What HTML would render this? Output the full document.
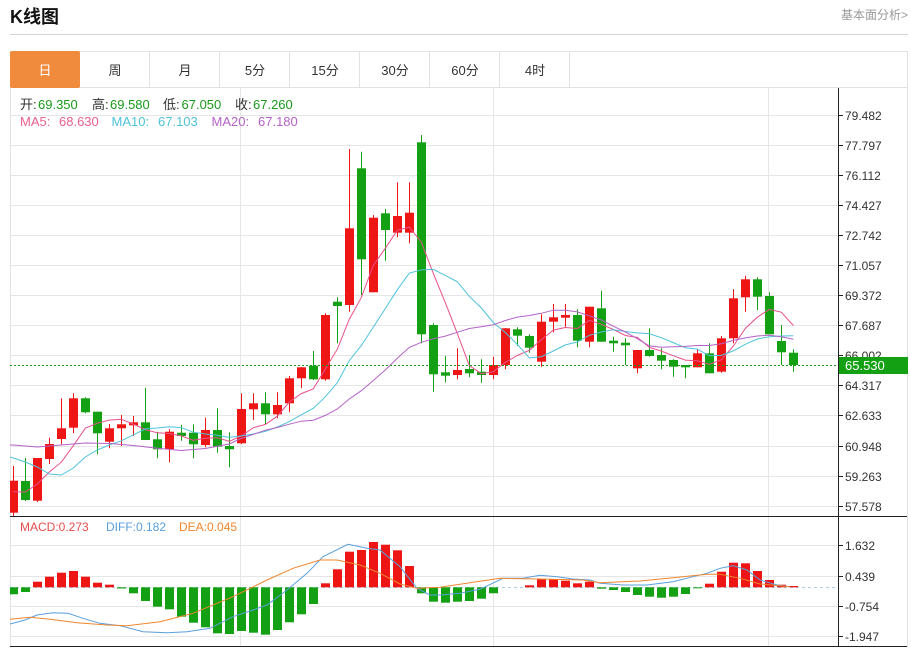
<!DOCTYPE html>
<html><head><meta charset="utf-8"><style>
html,body{margin:0;padding:0;background:#fff;}
svg{display:block;font-family:"Liberation Sans","Noto Sans CJK SC",sans-serif;}
</style></head><body>
<svg width="911" height="649" viewBox="0 0 911 649" xmlns="http://www.w3.org/2000/svg">
<defs><clipPath id="cp"><rect x="10" y="88" width="828" height="428"/></clipPath>
<clipPath id="cp2"><rect x="10" y="517" width="828" height="129"/></clipPath></defs>
<rect width="911" height="649" fill="#fff"/>
<!-- header -->
<text x="10" y="23" font-size="18" font-weight="bold" fill="#111">K线图</text>
<text x="908" y="19" font-size="12" fill="#999" text-anchor="end">基本面分析&gt;</text>
<line x1="10" y1="34.5" x2="908" y2="34.5" stroke="#d4d4d4"/>
<!-- tabs -->
<rect x="10.5" y="51.5" width="897" height="36" fill="#fff" stroke="#e2e2e2"/>
<rect x="10" y="51" width="70" height="37" rx="2" fill="#f08a3c"/>
<g stroke="#e2e2e2"><line x1="149.5" y1="51" x2="149.5" y2="88"/><line x1="219.5" y1="51" x2="219.5" y2="88"/><line x1="289.5" y1="51" x2="289.5" y2="88"/><line x1="359.5" y1="51" x2="359.5" y2="88"/><line x1="429.5" y1="51" x2="429.5" y2="88"/><line x1="499.5" y1="51" x2="499.5" y2="88"/><line x1="569.5" y1="51" x2="569.5" y2="88"/></g>
<g font-size="13" text-anchor="middle" fill="#333">
<text x="45" y="75" fill="#fff">日</text><text x="115" y="75">周</text><text x="185" y="75">月</text><text x="255" y="75">5分</text><text x="325" y="75">15分</text><text x="395" y="75">30分</text><text x="465" y="75">60分</text><text x="535" y="75">4时</text>
</g>
<!-- chart frame -->
<line x1="10.5" y1="88" x2="10.5" y2="647" stroke="#e2e2e2"/>
<line x1="907.5" y1="88" x2="907.5" y2="647" stroke="#e2e2e2"/>
<!-- grid -->
<g stroke="#e6e6e6">
<line x1="10" y1="115.5" x2="838" y2="115.5"/><line x1="10" y1="145.5" x2="838" y2="145.5"/><line x1="10" y1="175.5" x2="838" y2="175.5"/><line x1="10" y1="205.5" x2="838" y2="205.5"/><line x1="10" y1="235.5" x2="838" y2="235.5"/><line x1="10" y1="265.5" x2="838" y2="265.5"/><line x1="10" y1="295.5" x2="838" y2="295.5"/><line x1="10" y1="325.5" x2="838" y2="325.5"/><line x1="10" y1="355.5" x2="838" y2="355.5"/><line x1="10" y1="385.5" x2="838" y2="385.5"/><line x1="10" y1="415.5" x2="838" y2="415.5"/><line x1="10" y1="446.5" x2="838" y2="446.5"/><line x1="10" y1="476.5" x2="838" y2="476.5"/><line x1="10" y1="506.5" x2="838" y2="506.5"/>
<line x1="10" y1="545.5" x2="838" y2="545.5"/><line x1="10" y1="576.5" x2="838" y2="576.5"/><line x1="10" y1="606.5" x2="838" y2="606.5"/><line x1="10" y1="636.5" x2="838" y2="636.5"/>
<line x1="240.5" y1="88" x2="240.5" y2="647"/><line x1="493.5" y1="88" x2="493.5" y2="647"/><line x1="768.5" y1="88" x2="768.5" y2="647"/>
</g>
<!-- info text -->
<g font-size="13">
<text x="20" y="109" fill="#333">开:</text><text x="38" y="109" fill="#1a9a1a">69.350</text>
<text x="92" y="109" fill="#333">高:</text><text x="110" y="109" fill="#1a9a1a">69.580</text>
<text x="163" y="109" fill="#333">低:</text><text x="181.5" y="109" fill="#1a9a1a">67.050</text>
<text x="235" y="109" fill="#333">收:</text><text x="253" y="109" fill="#1a9a1a">67.260</text>
<text x="20" y="126" fill="#e8608f">MA5:</text><text x="59" y="126" fill="#e8608f">68.630</text>
<text x="111.5" y="126" fill="#4ec3dc">MA10:</text><text x="158" y="126" fill="#4ec3dc">67.103</text>
<text x="211.5" y="126" fill="#b462c8">MA20:</text><text x="258" y="126" fill="#b462c8">67.180</text>
</g>
<!-- candles -->
<g clip-path="url(#cp)">
<g stroke="#ee1515" stroke-width="1" fill="#ee1515">
<line x1="13.5" y1="466" x2="13.5" y2="516"/><rect x="9" y="480.7" width="9" height="32" stroke="none"/>
<line x1="37.5" y1="458" x2="37.5" y2="502"/><rect x="33" y="458" width="9" height="42.7" stroke="none"/>
<line x1="49.5" y1="437.7" x2="49.5" y2="464"/><rect x="45" y="444" width="9" height="15" stroke="none"/>
<line x1="61.5" y1="398.3" x2="61.5" y2="444.3"/><rect x="57" y="428.3" width="9" height="10.7" stroke="none"/>
<line x1="73.5" y1="393.3" x2="73.5" y2="433.3"/><rect x="69" y="398.3" width="9" height="29.4" stroke="none"/>
<line x1="109.5" y1="424" x2="109.5" y2="448.3"/><rect x="105" y="428.3" width="9" height="13.4" stroke="none"/>
<line x1="121.5" y1="415" x2="121.5" y2="446"/><rect x="117" y="424.3" width="9" height="4" stroke="none"/>
<line x1="133.5" y1="416" x2="133.5" y2="436"/><rect x="129" y="422.3" width="9" height="3" stroke="none"/>
<line x1="169.5" y1="429.3" x2="169.5" y2="462.3"/><rect x="165" y="431.7" width="9" height="17.6" stroke="none"/>
<line x1="205.5" y1="417.7" x2="205.5" y2="447.3"/><rect x="201" y="430" width="9" height="15" stroke="none"/>
<line x1="241.5" y1="393.3" x2="241.5" y2="444"/><rect x="237" y="409" width="9" height="34.3" stroke="none"/>
<line x1="253.5" y1="393.3" x2="253.5" y2="420"/><rect x="249" y="403.3" width="9" height="6" stroke="none"/>
<line x1="277.5" y1="392.3" x2="277.5" y2="418.3"/><rect x="273" y="405" width="9" height="9.3" stroke="none"/>
<line x1="289.5" y1="376" x2="289.5" y2="412.3"/><rect x="285" y="378.3" width="9" height="25" stroke="none"/>
<line x1="301.5" y1="367" x2="301.5" y2="388.3"/><rect x="297" y="367.3" width="9" height="11" stroke="none"/>
<line x1="325.5" y1="313.3" x2="325.5" y2="380.7"/><rect x="321" y="315" width="9" height="64.3" stroke="none"/>
<line x1="349.5" y1="149" x2="349.5" y2="311.7"/><rect x="345" y="228.3" width="9" height="76.7" stroke="none"/>
<line x1="373.5" y1="215" x2="373.5" y2="292.3"/><rect x="369" y="217.7" width="9" height="74.6" stroke="none"/>
<line x1="397.5" y1="182.3" x2="397.5" y2="237.3"/><rect x="393" y="216" width="9" height="16.7" stroke="none"/>
<line x1="409.5" y1="182.3" x2="409.5" y2="243.3"/><rect x="405" y="212.7" width="9" height="20" stroke="none"/>
<line x1="457.5" y1="348.3" x2="457.5" y2="379.3"/><rect x="453" y="370" width="9" height="5" stroke="none"/>
<line x1="493.5" y1="356.7" x2="493.5" y2="379.3"/><rect x="489" y="365" width="9" height="10" stroke="none"/>
<line x1="505.5" y1="328" x2="505.5" y2="369.3"/><rect x="501" y="328.3" width="9" height="36.7" stroke="none"/>
<line x1="541.5" y1="314.3" x2="541.5" y2="366.7"/><rect x="537" y="321.7" width="9" height="40" stroke="none"/>
<line x1="553.5" y1="304" x2="553.5" y2="332.3"/><rect x="549" y="317.3" width="9" height="4.4" stroke="none"/>
<line x1="565.5" y1="304" x2="565.5" y2="326.7"/><rect x="561" y="315" width="9" height="2.7" stroke="none"/>
<line x1="589.5" y1="306.7" x2="589.5" y2="347.3"/><rect x="585" y="306.7" width="9" height="35" stroke="none"/>
<line x1="637.5" y1="350" x2="637.5" y2="373.3"/><rect x="633" y="350" width="9" height="18.3" stroke="none"/>
<line x1="697.5" y1="349.3" x2="697.5" y2="367.3"/><rect x="693" y="353.3" width="9" height="14" stroke="none"/>
<line x1="721.5" y1="336" x2="721.5" y2="372.7"/><rect x="717" y="338.3" width="9" height="33.4" stroke="none"/>
<line x1="733.5" y1="289.3" x2="733.5" y2="343.3"/><rect x="729" y="298.3" width="9" height="40" stroke="none"/>
<line x1="745.5" y1="275.7" x2="745.5" y2="311.7"/><rect x="741" y="279.3" width="9" height="18" stroke="none"/>
</g>
<g stroke="#13a013" stroke-width="1" fill="#13a013">
<line x1="25.5" y1="458" x2="25.5" y2="501"/><rect x="21" y="481" width="9" height="19" stroke="none"/>
<line x1="85.5" y1="397.3" x2="85.5" y2="413.3"/><rect x="81" y="398.3" width="9" height="14" stroke="none"/>
<line x1="97.5" y1="411.7" x2="97.5" y2="454.3"/><rect x="93" y="411.7" width="9" height="21.6" stroke="none"/>
<line x1="145.5" y1="387.7" x2="145.5" y2="440"/><rect x="141" y="422.3" width="9" height="17.7" stroke="none"/>
<line x1="157.5" y1="431.7" x2="157.5" y2="458.3"/><rect x="153" y="439.3" width="9" height="10" stroke="none"/>
<line x1="181.5" y1="425" x2="181.5" y2="440.7"/><rect x="177" y="432.7" width="9" height="3.3" stroke="none"/>
<line x1="193.5" y1="424.3" x2="193.5" y2="458.3"/><rect x="189" y="432.7" width="9" height="11.6" stroke="none"/>
<line x1="217.5" y1="408.3" x2="217.5" y2="452.7"/><rect x="213" y="430" width="9" height="16.7" stroke="none"/>
<line x1="229.5" y1="432.3" x2="229.5" y2="467.3"/><rect x="225" y="446" width="9" height="3.3" stroke="none"/>
<line x1="265.5" y1="392.3" x2="265.5" y2="424"/><rect x="261" y="403.3" width="9" height="11" stroke="none"/>
<line x1="313.5" y1="351" x2="313.5" y2="380"/><rect x="309" y="365.7" width="9" height="13.6" stroke="none"/>
<line x1="337.5" y1="297.3" x2="337.5" y2="343.3"/><rect x="333" y="301.7" width="9" height="4.3" stroke="none"/>
<line x1="361.5" y1="151.7" x2="361.5" y2="295"/><rect x="357" y="168.3" width="9" height="91" stroke="none"/>
<line x1="385.5" y1="209" x2="385.5" y2="260.7"/><rect x="381" y="213.3" width="9" height="16.7" stroke="none"/>
<line x1="421.5" y1="135" x2="421.5" y2="343.3"/><rect x="417" y="142.3" width="9" height="192" stroke="none"/>
<line x1="433.5" y1="323.3" x2="433.5" y2="391.7"/><rect x="429" y="325" width="9" height="49.3" stroke="none"/>
<line x1="445.5" y1="356" x2="445.5" y2="382.3"/><rect x="441" y="372.3" width="9" height="3.4" stroke="none"/>
<line x1="469.5" y1="355" x2="469.5" y2="377.3"/><rect x="465" y="369" width="9" height="4.3" stroke="none"/>
<line x1="481.5" y1="359.3" x2="481.5" y2="382.7"/><rect x="477" y="371.7" width="9" height="3.3" stroke="none"/>
<line x1="517.5" y1="327.3" x2="517.5" y2="346"/><rect x="513" y="329.3" width="9" height="6.4" stroke="none"/>
<line x1="529.5" y1="334.3" x2="529.5" y2="352.7"/><rect x="525" y="336" width="9" height="11.7" stroke="none"/>
<line x1="577.5" y1="309.3" x2="577.5" y2="347.3"/><rect x="573" y="315" width="9" height="25.7" stroke="none"/>
<line x1="601.5" y1="290.7" x2="601.5" y2="341.7"/><rect x="597" y="308.3" width="9" height="33.4" stroke="none"/>
<line x1="613.5" y1="336.7" x2="613.5" y2="351.7"/><rect x="609" y="340.7" width="9" height="2.6" stroke="none"/>
<line x1="625.5" y1="338.3" x2="625.5" y2="365"/><rect x="621" y="342.7" width="9" height="2.6" stroke="none"/>
<line x1="649.5" y1="328.3" x2="649.5" y2="356.7"/><rect x="645" y="350" width="9" height="6" stroke="none"/>
<line x1="661.5" y1="348.3" x2="661.5" y2="369.3"/><rect x="657" y="355" width="9" height="5.7" stroke="none"/>
<line x1="673.5" y1="359.3" x2="673.5" y2="376.7"/><rect x="669" y="360" width="9" height="6.7" stroke="none"/>
<line x1="685.5" y1="365" x2="685.5" y2="378.3"/><rect x="681" y="365" width="9" height="2.3" stroke="none"/>
<line x1="709.5" y1="343.3" x2="709.5" y2="373.3"/><rect x="705" y="353.3" width="9" height="20" stroke="none"/>
<line x1="757.5" y1="277.3" x2="757.5" y2="310"/><rect x="753" y="279.3" width="9" height="17.4" stroke="none"/>
<line x1="769.5" y1="292.3" x2="769.5" y2="334.3"/><rect x="765" y="296" width="9" height="38.3" stroke="none"/>
<line x1="781.5" y1="325" x2="781.5" y2="365"/><rect x="777" y="341" width="9" height="11.3" stroke="none"/>
<line x1="793.5" y1="349.3" x2="793.5" y2="371.7"/><rect x="789" y="352.7" width="9" height="12.3" stroke="none"/>
</g>
<!-- MA lines -->
<g fill="none" stroke-width="1">
<polyline stroke="#e8508c" points="13.3,491.7 25.3,492 37.3,484 49.3,472 61.3,462.2 73.3,445.7 85.3,428.2 97.3,423.2 109.3,420.1 121.3,419.3 133.3,424.1 145.3,429.6 157.3,432.8 169.3,433.5 181.3,435.9 193.3,440.3 205.3,438.3 217.3,437.7 229.3,441.3 241.3,435.9 253.3,427.7 265.3,424.5 277.3,416.2 289.3,402 301.3,393.6 313.3,388.8 325.3,369 337.3,349.2 349.3,319.2 361.3,297.6 373.3,265.3 385.3,248.3 397.3,230.3 409.3,227.1 421.3,242.1 433.3,273.5 445.3,302.6 457.3,333.4 469.3,365.5 481.3,373.7 493.3,371.8 505.3,362.3 517.3,355.5 529.3,350.3 541.3,339.7 553.3,330.1 565.3,327.5 577.3,328.5 589.3,320.3 601.3,324.3 613.3,329.5 625.3,335.5 637.3,337.4 649.3,347.3 661.3,351.1 673.3,355.7 685.3,360.1 697.3,360.8 709.3,364.3 721.3,359.8 733.3,346.1 745.3,328.5 757.3,317.2 769.3,309.4 781.3,312.2 793.3,325.5"/>
<polyline stroke="#4ec3dc" points="10,457 13.3,458 25.3,462 37.3,467 49.3,474 61.3,475 73.3,468 85.3,457 97.3,450 109.3,445 121.3,440.8 133.3,434.9 145.3,428.9 157.3,428.0 169.3,426.8 181.3,427.6 193.3,432.2 205.3,434.0 217.3,435.3 229.3,437.4 241.3,435.9 253.3,434.0 265.3,431.4 277.3,427.0 289.3,421.6 301.3,414.8 313.3,408.3 325.3,396.8 337.3,382.7 349.3,360.6 361.3,345.6 373.3,327.1 385.3,308.6 397.3,289.7 409.3,273.2 421.3,269.9 433.3,269.4 445.3,275.4 457.3,281.8 469.3,296.3 481.3,307.9 493.3,322.6 505.3,332.5 517.3,344.4 529.3,357.9 541.3,356.7 553.3,351.0 565.3,344.9 577.3,342.0 589.3,335.3 601.3,332.0 613.3,329.8 625.3,331.5 637.3,332.9 649.3,333.8 661.3,337.7 673.3,342.6 685.3,347.8 697.3,349.1 709.3,355.8 721.3,355.4 733.3,350.9 745.3,344.3 757.3,339.0 769.3,336.8 781.3,336.0 793.3,335.8"/>
<polyline stroke="#b462c8" points="10,445 13.3,445 37.3,447 61.3,445 85.3,443 109.3,443.5 133.3,445.5 157.3,448.3 181.3,450.5 205.3,448.5 229.3,444 241.3,438.3 253.3,434.4 265.3,430.2 277.3,427.5 289.3,424.2 301.3,421.2 313.3,420.2 325.3,415.4 337.3,409.0 349.3,399.0 361.3,390.7 373.3,380.5 385.3,370.0 397.3,358.3 409.3,347.4 421.3,342.3 433.3,338.8 445.3,336.1 457.3,332.3 469.3,328.5 481.3,326.8 493.3,324.8 505.3,320.5 517.3,317.1 529.3,315.5 541.3,313.3 553.3,310.2 565.3,310.2 577.3,311.9 589.3,315.8 601.3,319.9 613.3,326.2 625.3,332.0 637.3,338.7 649.3,345.9 661.3,347.2 673.3,346.8 685.3,346.4 697.3,345.5 709.3,345.5 721.3,343.7 733.3,340.4 745.3,337.9 757.3,336.0 769.3,335.3 781.3,336.8 793.3,339.2"/>
</g>
</g>
<!-- current price dashed -->
<line x1="10" y1="365.5" x2="838" y2="365.5" stroke="#1a9a1a" stroke-dasharray="2,2"/>
<!-- MACD -->
<text x="20" y="531" font-size="12" fill="#e64c4c">MACD:0.273</text>
<text x="106" y="531" font-size="12" fill="#5a9fdc">DIFF:0.182</text>
<text x="179" y="531" font-size="12" fill="#f0862e">DEA:0.045</text>
<line x1="10" y1="587.5" x2="838" y2="587.5" stroke="#b0cce0" stroke-dasharray="3,3"/>
<g clip-path="url(#cp2)">
<g fill="#ee1515">
<rect x="33" y="581.7" width="9" height="5.6"/><rect x="45" y="576.7" width="9" height="10.6"/><rect x="57" y="572.7" width="9" height="14.6"/><rect x="69" y="571" width="9" height="16.3"/><rect x="81" y="576.7" width="9" height="10.6"/><rect x="93" y="582.7" width="9" height="4.6"/><rect x="105" y="584.7" width="9" height="2.6"/>
<rect x="321" y="583.3" width="9" height="4"/><rect x="333" y="569.3" width="9" height="18"/><rect x="345" y="551.7" width="9" height="35.6"/><rect x="357" y="550" width="9" height="37.3"/><rect x="369" y="542" width="9" height="45.3"/><rect x="381" y="544.7" width="9" height="42.6"/><rect x="393" y="550.3" width="9" height="37"/><rect x="405" y="566" width="9" height="21.3"/>
<rect x="525" y="585.3" width="9" height="2"/><rect x="537" y="579.3" width="9" height="8"/><rect x="549" y="579.3" width="9" height="8"/><rect x="561" y="580.7" width="9" height="6.6"/><rect x="573" y="583.3" width="9" height="4"/><rect x="585" y="581.7" width="9" height="5.6"/>
<rect x="705" y="583.7" width="9" height="3.6"/><rect x="717" y="571.7" width="9" height="15.6"/><rect x="729" y="562.7" width="9" height="24.6"/><rect x="741" y="563.3" width="9" height="24"/><rect x="753" y="571" width="9" height="16.3"/><rect x="765" y="580" width="9" height="7.3"/><rect x="777" y="584.7" width="9" height="2.6"/><rect x="789" y="586" width="9" height="1.3"/>
</g>
<g fill="#13a013">
<rect x="9" y="587.3" width="9" height="7"/><rect x="21" y="587.3" width="9" height="4.7"/><rect x="117" y="587.3" width="9" height="1.2"/><rect x="129" y="587.3" width="9" height="6"/><rect x="141" y="587.3" width="9" height="13.7"/><rect x="153" y="587.3" width="9" height="19.4"/><rect x="165" y="587.3" width="9" height="22"/><rect x="177" y="587.3" width="9" height="29.4"/><rect x="189" y="587.3" width="9" height="35.4"/><rect x="201" y="587.3" width="9" height="40"/><rect x="213" y="587.3" width="9" height="46"/><rect x="225" y="587.3" width="9" height="46.7"/><rect x="237" y="587.3" width="9" height="43.7"/><rect x="249" y="587.3" width="9" height="45.4"/><rect x="261" y="587.3" width="9" height="47.4"/><rect x="273" y="587.3" width="9" height="42.7"/><rect x="285" y="587.3" width="9" height="35"/><rect x="297" y="587.3" width="9" height="27"/><rect x="309" y="587.3" width="9" height="16.7"/>
<rect x="417" y="587.3" width="9" height="6"/><rect x="429" y="587.3" width="9" height="14.4"/><rect x="441" y="587.3" width="9" height="15.4"/><rect x="453" y="587.3" width="9" height="14.4"/><rect x="465" y="587.3" width="9" height="13.7"/><rect x="477" y="587.3" width="9" height="11.4"/><rect x="489" y="587.3" width="9" height="6"/>
<rect x="597" y="587.3" width="9" height="1.4"/><rect x="609" y="587.3" width="9" height="2.7"/><rect x="621" y="587.3" width="9" height="4.7"/><rect x="633" y="587.3" width="9" height="7.7"/><rect x="645" y="587.3" width="9" height="9.4"/><rect x="657" y="587.3" width="9" height="10.4"/><rect x="669" y="587.3" width="9" height="9.4"/><rect x="681" y="587.3" width="9" height="6.7"/><rect x="693" y="587.3" width="9" height="1"/>
</g>
<g fill="none" stroke-width="1">
<polyline stroke="#5a9fdc" points="10,624 25,620 37,615 53,612.7 68,613.3 83,618.3 100,623.3 120,625.7 143,631.7 167,632.7 187,631.7 210,628.3 233,616.7 253,610 267,605 287,590 307,573.3 323,556.7 348,544.3 367,548.3 380,550 400,566.7 417,588.3 430,595 440,595 460,593.3 480,589.3 503,578.3 523,578.3 540,575.3 557,576.7 573,579 590,580 600,583.3 623,585 647,585 673,581.7 693,576.7 707,573.3 720,568.3 733,565.7 747,570 760,580 777,585 790,586.7"/>
<polyline stroke="#f0862e" points="10,619.3 30,617.3 50,619.3 77,622.7 107,625 127,625.7 160,621.7 193,613.3 233,596.7 267,580 293,568.3 320,560 337,560 360,565 380,573.3 400,584 417,588.3 440,587.3 470,582.7 500,578.3 540,579 583,580 600,582.7 640,581 673,577.7 707,574.3 720,574.3 740,578.3 760,584 790,586.7"/>
</g>
</g>
<!-- axes -->
<line x1="10" y1="516.5" x2="907" y2="516.5" stroke="#222"/>
<line x1="10" y1="646.5" x2="907" y2="646.5" stroke="#222"/>
<line x1="838.5" y1="88" x2="838.5" y2="647" stroke="#222"/>
<g stroke="#222">
<line x1="838" y1="115.5" x2="843" y2="115.5"/><line x1="838" y1="145.5" x2="843" y2="145.5"/><line x1="838" y1="175.5" x2="843" y2="175.5"/><line x1="838" y1="205.5" x2="843" y2="205.5"/><line x1="838" y1="235.5" x2="843" y2="235.5"/><line x1="838" y1="265.5" x2="843" y2="265.5"/><line x1="838" y1="295.5" x2="843" y2="295.5"/><line x1="838" y1="325.5" x2="843" y2="325.5"/><line x1="838" y1="355.5" x2="843" y2="355.5"/><line x1="838" y1="385.5" x2="843" y2="385.5"/><line x1="838" y1="415.5" x2="843" y2="415.5"/><line x1="838" y1="446.5" x2="843" y2="446.5"/><line x1="838" y1="476.5" x2="843" y2="476.5"/><line x1="838" y1="506.5" x2="843" y2="506.5"/>
<line x1="838" y1="545.5" x2="843" y2="545.5"/><line x1="838" y1="576.5" x2="843" y2="576.5"/><line x1="838" y1="606.5" x2="843" y2="606.5"/><line x1="838" y1="636.5" x2="843" y2="636.5"/>
</g>
<g font-size="12" fill="#333">
<text x="845" y="120">79.482</text><text x="845" y="150">77.797</text><text x="845" y="180">76.112</text><text x="845" y="210">74.427</text><text x="845" y="240">72.742</text><text x="845" y="270">71.057</text><text x="845" y="300">69.372</text><text x="845" y="330">67.687</text><text x="845" y="360">66.002</text><text x="845" y="390">64.317</text><text x="845" y="420">62.633</text><text x="845" y="451">60.948</text><text x="845" y="481">59.263</text><text x="845" y="511">57.578</text>
<text x="845" y="550">1.632</text><text x="845" y="581">0.439</text><text x="845" y="611">-0.754</text><text x="845" y="641">-1.947</text>
</g>
<rect x="839" y="357" width="69" height="17" fill="#13a013"/>
<text x="845" y="370" font-size="13" fill="#fff">65.530</text>
</svg>
</body></html>
